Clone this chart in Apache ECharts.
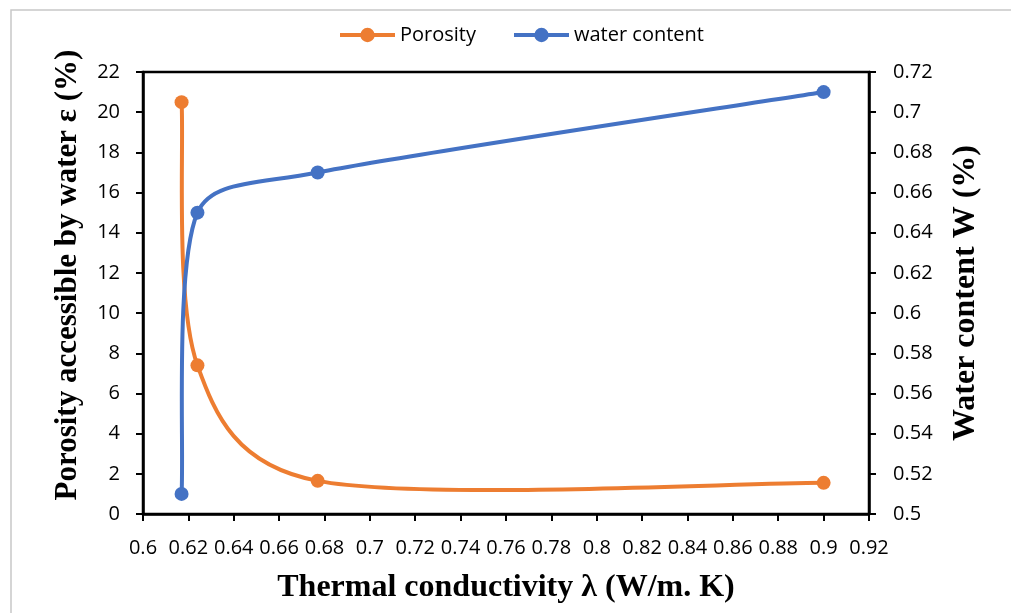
<!DOCTYPE html>
<html>
<head>
<meta charset="utf-8">
<title>Porosity / water content vs thermal conductivity</title>
<script src="https://cdn.jsdelivr.net/npm/echarts@6/dist/echarts.min.js"></script>
<style>
	html, body {margin: 0; padding: 0; background: #fff;}
	#main {width: 1011px; height: 613px;}
</style>
</head>
<body>
<div id="main"></div>
<script>
// values
const lambdaVals = [0.617, 0.624, 0.677, 0.9];
const porosityVals = [20.5, 7.4, 1.65, 1.55];
const waterVals = [0.51, 0.65, 0.67, 0.71];
const seriesNames = ['Porosity', 'water content'];

const orange = '#ED7D31', blue = '#4472C4';
const tickFont = 'Open Sans';
const nameFont = 'Liberation Serif';

const chart = echarts.init(document.getElementById('main'), null, {renderer: 'canvas'});

function pairs(xs, ys){
	return xs.map((x, i) => [x, ys[i]]);
}

// spreadsheet-style smoothed segment (catmull-rom bezier, 1/6 tension,
// arms shortened together when one would pass half of the segment)
function smoothSegment(ys, color){
	return function(params, api){
		const i = params.dataIndex, n = lambdaVals.length;
		if(i >= n - 1) return null;
		const pt = k => {
			k = Math.max(0, Math.min(n - 1, k));
			return api.coord([lambdaVals[k], ys[k]]);
		};
		const p0 = pt(i - 1), p1 = pt(i), p2 = pt(i + 1), p3 = pt(i + 2);
		const dist = (a, b) => Math.hypot(a[0] - b[0], a[1] - b[1]);
		const d12 = dist(p1, p2), d02 = dist(p0, p2), d13 = dist(p1, p3);
		let f = 1 / 6;
		if(d02 / 6 > d12 / 2) f = Math.min(f, d12 / 2 / d02);
		if(d13 / 6 > d12 / 2) f = Math.min(f, d12 / 2 / d13);
		return {
			type: 'bezierCurve',
			shape: {
				x1: p1[0], y1: p1[1],
				x2: p2[0], y2: p2[1],
				cpx1: p1[0] + f * (p2[0] - p0[0]), cpy1: p1[1] + f * (p2[1] - p0[1]),
				cpx2: p2[0] - f * (p3[0] - p1[0]), cpy2: p2[1] - f * (p3[1] - p1[1])
			},
			style: {stroke: color, lineWidth: 4, fill: null, lineCap: 'round'}
		};
	};
}

const axisLine = {lineStyle: {color: '#000', width: 2.5}};
const axisTick = {show: true, length: 7, lineStyle: {color: '#000', width: 2}};
const nameStyle = {fontFamily: nameFont, fontWeight: 'bold', fontSize: 32, color: '#000'};
const labelStyle = {fontFamily: tickFont, fontSize: 20, color: '#000'};

const option = {
	animation: false,
	backgroundColor: '#fff',
	// outer frame of the chart area (only top/left edge visible)
	graphic: [{
		type: 'rect',
		shape: {x: 11, y: 10, width: 1100, height: 700},
		style: {fill: 'none', stroke: '#c8c8c8', lineWidth: 1.5},
		silent: true
	}],
	legend: {
		data: seriesNames,
		top: 25,
		left: 338,
		padding: 0,
		itemWidth: 55,
		itemHeight: 18,
		itemGap: 36,
		lineStyle: {width: 4, opacity: 1},
		textStyle: {fontFamily: tickFont, fontSize: 20, color: '#000'}
	},
	grid: {
		left: 143,
		top: 72,
		width: 726,
		height: 442,
		show: true,
		borderColor: '#000',
		borderWidth: 2.5,
		containLabel: false
	},
	xAxis: {
		type: 'value',
		min: 0.6,
		max: 0.92,
		interval: 0.02,
		name: 'Thermal conductivity λ (W/m. K)',
		nameLocation: 'middle',
		nameGap: 58,
		nameTextStyle: nameStyle,
		axisLine: axisLine,
		axisTick: axisTick,
		splitLine: {show: false},
		axisLabel: Object.assign({margin: 24}, labelStyle)
	},
	yAxis: [{
		type: 'value',
		position: 'left',
		min: 0,
		max: 22,
		interval: 2,
		name: 'Porosity accessible by water ε (%)',
		nameLocation: 'middle',
		nameGap: 60,
		nameTextStyle: Object.assign({}, nameStyle, {fontSize: 31, padding: [0, 0, 0, 36]}),
		axisLine: axisLine,
		axisTick: axisTick,
		splitLine: {show: false},
		axisLabel: Object.assign({margin: 23}, labelStyle)
	}, {
		type: 'value',
		position: 'right',
		min: 0.5,
		max: 0.72,
		interval: 0.02,
		name: 'Water content W (%)',
		nameLocation: 'middle',
		nameRotate: 90,
		nameGap: 81,
		nameTextStyle: nameStyle,
		axisLine: axisLine,
		axisTick: axisTick,
		splitLine: {show: false},
		axisLabel: Object.assign({margin: 24}, labelStyle)
	}],
	series: [{
		name: 'Porosity curve',
		type: 'custom',
		yAxisIndex: 0,
		z: 2,
		data: pairs(lambdaVals, porosityVals),
		renderItem: smoothSegment(porosityVals, orange)
	}, {
		name: 'water content curve',
		type: 'custom',
		yAxisIndex: 1,
		z: 2,
		data: pairs(lambdaVals, waterVals),
		renderItem: smoothSegment(waterVals, blue)
	}, {
		name: seriesNames[0],
		type: 'line',
		yAxisIndex: 0,
		z: 3,
		data: pairs(lambdaVals, porosityVals),
		symbol: 'circle',
		symbolSize: 14,
		itemStyle: {color: orange},
		lineStyle: {color: orange, width: 4, opacity: 0}
	}, {
		name: seriesNames[1],
		type: 'line',
		yAxisIndex: 1,
		z: 3,
		data: pairs(lambdaVals, waterVals),
		symbol: 'circle',
		symbolSize: 14,
		itemStyle: {color: blue},
		lineStyle: {color: blue, width: 4, opacity: 0}
	}]
};

chart.setOption(option);
</script>
</body>
</html>
